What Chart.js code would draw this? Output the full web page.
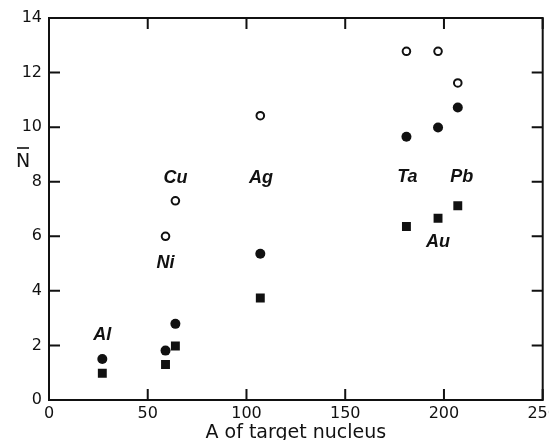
<!DOCTYPE html>
<html>
<head>
<meta charset="utf-8">
<script src="https://cdn.jsdelivr.net/npm/chart.js@4"></script>
<style>
  html, body { margin: 0; padding: 0; background: #fff; }
  #wrap { width: 549px; height: 440px; }
</style>
</head>
<body>
<div id="wrap"><canvas id="chart" width="549" height="440"></canvas></div>
<script>
// target nuclei and their mass numbers
const elements = ["Al", "Ni", "Cu", "Ag", "Ta", "Au", "Pb"];
const targetA = [27, 59, 64, 107, 181, 197, 207];

// mean multiplicity for the three data sets (null = no point)
const openN = [null, 6.0, 7.3, 10.42, 12.78, 12.78, 11.62];
const filledN = [1.5, 1.81, 2.79, 5.36, 9.65, 9.99, 10.72];
const squareN = [0.98, 1.3, 1.98, 3.74, 6.36, 6.66, 7.12];

// where each element name sits, in data units
const labelA = [27, 59, 64, 107.4, 181.5, 197, 209];
const labelN = [2.38, 5.01, 8.15, 8.15, 8.17, 5.78, 8.17];

const xTicks = [0, 50, 100, 150, 200, 250];
const yTicks = [0, 2, 4, 6, 8, 10, 12, 14];

const FONT = "DejaVu Sans";

function toPoints(values) {
  const pts = [];
  values.forEach((v, i) => {
    if (v !== null) pts.push({ x: targetA[i], y: v });
  });
  return pts;
}

const framePlugin = {
  id: "frame",
  afterDraw(chart) {
    const { ctx, chartArea: a, scales } = chart;
    const tick = 11;
    ctx.save();
    ctx.strokeStyle = "#111";
    ctx.lineWidth = 2;
    ctx.strokeRect(a.left, a.top, a.right - a.left, a.bottom - a.top);
    ctx.beginPath();
    xTicks.forEach((v) => {
      const px = scales.x.getPixelForValue(v);
      ctx.moveTo(px, a.bottom);
      ctx.lineTo(px, a.bottom - tick);
      ctx.moveTo(px, a.top);
      ctx.lineTo(px, a.top + tick);
    });
    yTicks.forEach((v) => {
      const py = scales.y.getPixelForValue(v);
      ctx.moveTo(a.left, py);
      ctx.lineTo(a.left + tick, py);
      ctx.moveTo(a.right, py);
      ctx.lineTo(a.right - tick, py);
    });
    ctx.stroke();

    // element names
    ctx.fillStyle = "#111";
    ctx.font = "italic bold 18px 'Liberation Sans'";
    ctx.textAlign = "center";
    ctx.textBaseline = "middle";
    elements.forEach((name, i) => {
      ctx.fillText(name, scales.x.getPixelForValue(labelA[i]), scales.y.getPixelForValue(labelN[i]));
    });

    // axis titles
    ctx.font = "19px " + FONT;
    ctx.textBaseline = "alphabetic";
    ctx.fillText("A of target nucleus", (a.left + a.right) / 2, 438);
    ctx.font = "19px " + FONT;
    ctx.fillText("N", 23, 167);
    ctx.beginPath();
    ctx.lineWidth = 1.6;
    ctx.moveTo(17, 148);
    ctx.lineTo(29, 148);
    ctx.stroke();
    ctx.restore();
  }
};

new Chart(document.getElementById("chart"), {
  type: "scatter",
  data: {
    datasets: [
      {
        label: "open",
        data: toPoints(openN),
        pointStyle: "circle",
        radius: 3.8,
        borderWidth: 2,
        borderColor: "#111",
        backgroundColor: "#fff"
      },
      {
        label: "filled",
        data: toPoints(filledN),
        pointStyle: "circle",
        radius: 5,
        borderWidth: 0,
        backgroundColor: "#111"
      },
      {
        label: "square",
        data: toPoints(squareN),
        pointStyle: "rect",
        radius: 6.3,
        borderWidth: 0,
        backgroundColor: "#111"
      }
    ]
  },
  options: {
    responsive: false,
    animation: false,
    layout: { padding: { top: 18, right: 4, left: 0, bottom: 0 } },
    plugins: { legend: { display: false }, tooltip: { enabled: false } },
    scales: {
      x: {
        type: "linear",
        min: 0,
        max: 250,
        grid: { display: false, drawTicks: false },
        border: { display: false },
        ticks: {
          stepSize: 50,
          padding: 4,
          color: "#111",
          font: { family: FONT, size: 16 },
          maxRotation: 0
        },
        afterFit(scale) {
          scale.height = 40;
          scale.paddingLeft = 0;
          scale.paddingRight = 0;
        }
      },
      y: {
        type: "linear",
        min: 0,
        max: 14,
        grid: { display: false, drawTicks: false },
        border: { display: false },
        ticks: {
          stepSize: 2,
          padding: 7,
          color: "#111",
          font: { family: FONT, size: 16 }
        },
        afterFit(scale) {
          scale.width = 49;
          scale.paddingTop = 0;
          scale.paddingBottom = 0;
        }
      }
    }
  },
  plugins: [framePlugin]
});
</script>
</body>
</html>
